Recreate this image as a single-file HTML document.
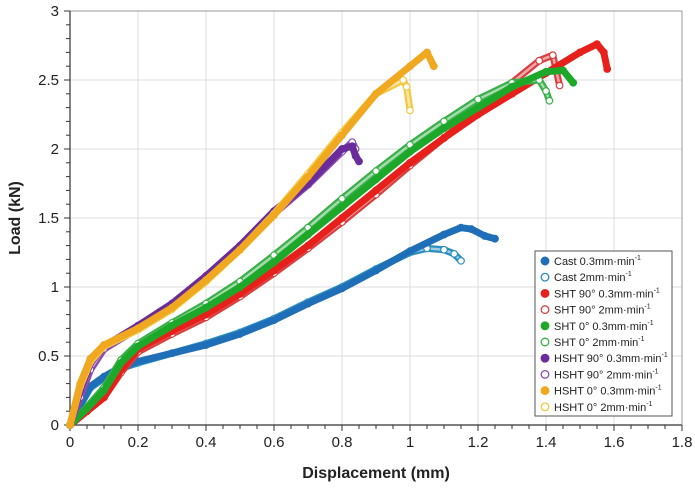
<!DOCTYPE html>
<html><head><meta charset="utf-8"><style>
body{margin:0;background:#fff;font-family:"Liberation Sans",sans-serif}
svg text{font-family:"Liberation Sans",sans-serif}
</style></head><body>
<svg id="chart" width="695" height="489" xmlns="http://www.w3.org/2000/svg"></svg>
<script>
const xTicks=[0,0.2,0.4,0.6,0.8,1,1.2,1.4,1.6,1.8];
const yTicks=[0,0.5,1,1.5,2,2.5,3];
const seriesNames=["Cast 0.3mm·min","Cast 2mm·min","SHT 90° 0.3mm·min","SHT 90° 2mm·min","SHT 0° 0.3mm·min","SHT 0° 2mm·min","HSHT 90° 0.3mm·min","HSHT 90° 2mm·min","HSHT 0° 0.3mm·min","HSHT 0° 2mm·min"];
const seriesColors=["#1f6fb8","#2a8fc0","#e8201c","#d84040","#1ea82a","#3ab04a","#6a2c9a","#8a4ab0","#f0a820","#f4c840"];
const seriesFilled=[true,false,true,false,true,false,true,false,true,false];
const castFastX=[0,0.03,0.06,0.1,0.15,0.2,0.3,0.4,0.5,0.6,0.7,0.8,0.9,1.0,1.1,1.15,1.18,1.22,1.25];
const castFastY=[0,0.15,0.28,0.35,0.42,0.46,0.52,0.58,0.66,0.76,0.88,0.99,1.12,1.26,1.38,1.43,1.42,1.37,1.35];
const cast2X=[0,0.03,0.06,0.1,0.15,0.2,0.3,0.4,0.5,0.6,0.7,0.8,0.9,1.0,1.05,1.1,1.13,1.15];
const cast2Y=[0,0.14,0.27,0.34,0.41,0.45,0.52,0.59,0.67,0.77,0.89,1.0,1.13,1.25,1.28,1.27,1.24,1.19];
const sht90aX=[0,0.05,0.1,0.15,0.2,0.3,0.4,0.5,0.6,0.7,0.8,0.9,1.0,1.1,1.2,1.3,1.4,1.5,1.55,1.57,1.58];
const sht90aY=[0,0.1,0.2,0.4,0.55,0.68,0.8,0.95,1.12,1.3,1.5,1.7,1.9,2.08,2.25,2.4,2.55,2.7,2.76,2.7,2.58];
const sht90bX=[0,0.05,0.1,0.15,0.2,0.3,0.4,0.5,0.6,0.7,0.8,0.9,1.0,1.1,1.2,1.3,1.38,1.42,1.44];
const sht90bY=[0,0.1,0.2,0.38,0.53,0.66,0.78,0.93,1.1,1.28,1.47,1.67,1.88,2.08,2.28,2.48,2.64,2.68,2.46];
const sht0aX=[0,0.05,0.1,0.15,0.2,0.3,0.4,0.5,0.6,0.7,0.8,0.9,1.0,1.1,1.2,1.3,1.4,1.45,1.48];
const sht0aY=[0,0.12,0.25,0.45,0.57,0.72,0.85,1.0,1.18,1.38,1.58,1.78,1.98,2.15,2.3,2.45,2.56,2.57,2.48];
const sht0bX=[0,0.05,0.1,0.15,0.2,0.3,0.4,0.5,0.6,0.7,0.8,0.9,1.0,1.1,1.2,1.3,1.38,1.4,1.41];
const sht0bY=[0,0.13,0.27,0.47,0.59,0.74,0.88,1.04,1.23,1.43,1.64,1.84,2.03,2.2,2.36,2.48,2.5,2.42,2.35];
const hsht90aX=[0,0.03,0.06,0.1,0.2,0.3,0.4,0.5,0.6,0.7,0.8,0.83,0.84,0.85];
const hsht90aY=[0,0.25,0.45,0.57,0.72,0.88,1.08,1.3,1.55,1.75,2.0,2.02,1.95,1.91];
const hsht90bX=[0,0.03,0.06,0.1,0.2,0.3,0.4,0.5,0.6,0.7,0.8,0.83,0.84];
const hsht90bY=[0,0.2,0.4,0.55,0.7,0.86,1.06,1.28,1.53,1.74,1.98,2.05,2.0];
const hsht0aX=[0,0.03,0.06,0.1,0.2,0.3,0.4,0.5,0.6,0.7,0.8,0.9,1.0,1.05,1.07];
const hsht0aY=[0,0.3,0.48,0.58,0.7,0.85,1.05,1.27,1.52,1.8,2.1,2.4,2.6,2.7,2.6];
const hsht0bX=[0,0.03,0.06,0.1,0.2,0.3,0.4,0.5,0.6,0.7,0.8,0.9,0.98,0.99,1.0];
const hsht0bY=[0,0.28,0.46,0.57,0.69,0.84,1.04,1.27,1.53,1.82,2.12,2.4,2.5,2.45,2.28];
const seriesX=[castFastX,cast2X,sht90aX,sht90bX,sht0aX,sht0bX,hsht90aX,hsht90bX,hsht0aX,hsht0bX];
const seriesY=[castFastY,cast2Y,sht90aY,sht90bY,sht0aY,sht0bY,hsht90aY,hsht90bY,hsht0aY,hsht0bY];
const drawOrder=[1,0,3,2,5,4,7,6,9,8];

const L=70,R=682,T=11,B=425;
const sx=v=>L+(v-0)/(1.8)*(R-L);
const sy=v=>B-(v/3)*(B-T);
const svg=document.getElementById('chart');
const NS='http://www.w3.org/2000/svg';
function mk(tag,attrs,parent){const e=document.createElementNS(NS,tag);for(const k in attrs)e.setAttribute(k,attrs[k]);(parent||svg).appendChild(e);return e;}

xTicks.forEach(t=>{if(t>0){const g=mk('line',{x1:sx(t),x2:sx(t),y1:T,y2:B,stroke:'#dcdcdc','stroke-width':1});

}});
yTicks.forEach(t=>{if(t>0){const g=mk('line',{x1:L,x2:R,y1:sy(t),y2:sy(t),stroke:'#dcdcdc','stroke-width':1});

}});
const frame=mk('rect',{x:L,y:T,width:R-L,height:B-T,fill:'none',stroke:'#999','stroke-width':1});


const ax=mk('line',{x1:L,x2:R,y1:B,y2:B,stroke:'#333','stroke-width':1.2});


const ay=mk('line',{x1:L,x2:L,y1:T,y2:B,stroke:'#333','stroke-width':1.2});


for(let i=0;i<=36;i++){const v=i*0.05;mk('line',{x1:sx(v),x2:sx(v),y1:B,y2:B+(i%4==0?6:4),stroke:'#333','stroke-width':1});}
for(let i=0;i<=30;i++){const v=i*0.1;mk('line',{x1:L-(i%5==0?6:4),x2:L,y1:sy(v),y2:sy(v),stroke:'#333','stroke-width':1});}
xTicks.forEach(t=>{const e=mk('text',{x:sx(t),y:B+22,'text-anchor':'middle','font-size':15,fill:'#222'});e.textContent=String(t);

});
yTicks.forEach(t=>{const e=mk('text',{x:L-11,y:sy(t)+5,'text-anchor':'end','font-size':15,fill:'#222'});e.textContent=String(t);

});
const xt=mk('text',{x:(L+R)/2,y:478,'text-anchor':'middle','font-size':16,'font-weight':'bold',fill:'#222'});xt.textContent='Displacement (mm)';


const yt=mk('text',{x:0,y:0,transform:'translate(20,218) rotate(-90)','text-anchor':'middle','font-size':16,'font-weight':'bold',fill:'#222'});yt.textContent='Load (kN)';



drawOrder.forEach(i=>{
  const g=mk('g',{});
  
  
  const pts=seriesX[i].map((x,j)=>sx(x)+','+sy(seriesY[i][j])).join(' ');
  mk('polyline',{points:pts,fill:'none',stroke:seriesColors[i],'stroke-width':7,'stroke-linejoin':'round','stroke-linecap':'round'},g);
  if(!seriesFilled[i])mk('polyline',{points:pts,fill:'none',stroke:'#fff','stroke-opacity':0.55,'stroke-width':2.5,'stroke-linejoin':'round'},g);
  seriesX[i].forEach((x,j)=>{const c=mk('circle',{cx:sx(x),cy:sy(seriesY[i][j]),r:3.3,fill:seriesFilled[i]?seriesColors[i]:'#fff',stroke:seriesColors[i],'stroke-width':1.2},g);
  
  });
});

const lg=mk('g',{});


mk('rect',{x:535,y:251,width:137,height:165,fill:'#fff',stroke:'#555','stroke-width':1},lg);
seriesNames.forEach((n,i)=>{
  const y=254+i*16.2+6;
  const e=mk('g',{},lg);
  
  
  mk('circle',{cx:545,cy:y+1,r:3.8,fill:seriesFilled[i]?seriesColors[i]:'#fff',stroke:seriesColors[i],'stroke-width':1.3},e);
  const t=mk('text',{x:554,y:y+5,'font-size':11,fill:'#222'},e);
  t.textContent=n;
  const s=mk('tspan',{'font-size':7,dy:-5},t);s.textContent='-1';
});
</script>
</body></html>
